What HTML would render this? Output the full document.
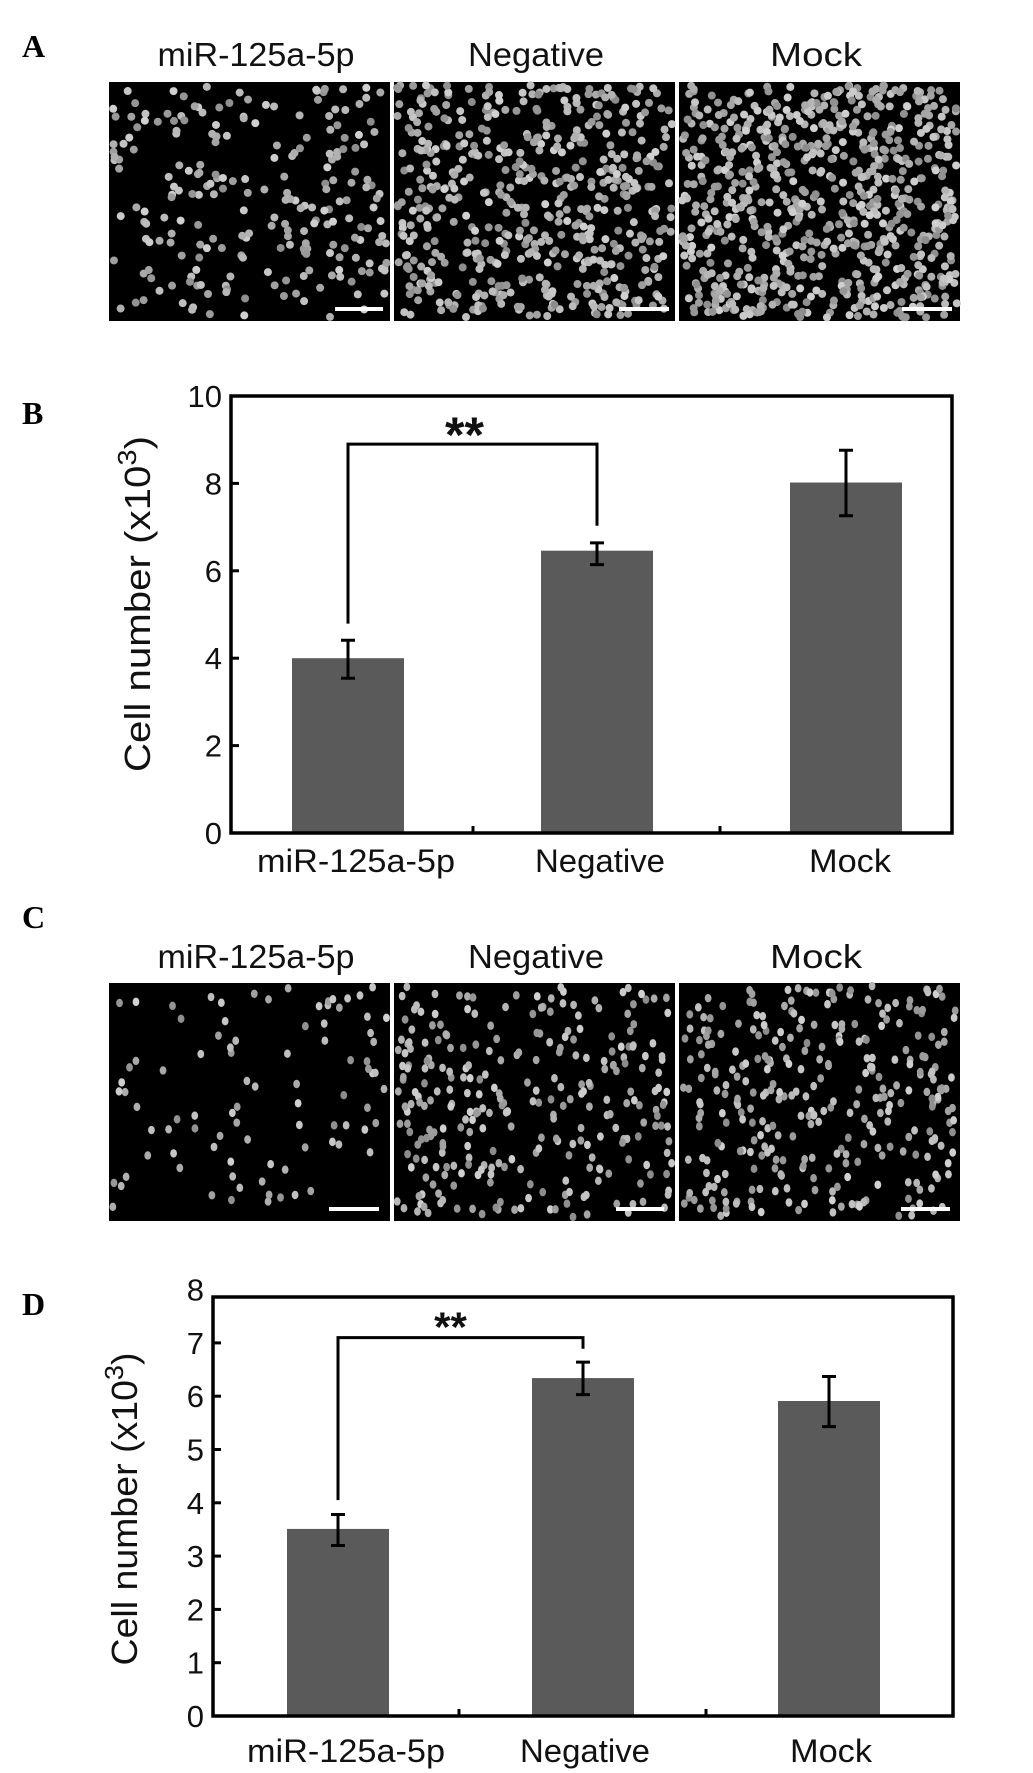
<!DOCTYPE html>
<html><head><meta charset="utf-8"><style>
html,body{margin:0;padding:0;background:#fff;}
svg{display:block;font-family:"Liberation Sans",Arial,sans-serif;}
.pl{font-family:"Liberation Serif",serif;font-weight:bold;font-size:32px;}
</style></head><body>
<svg id="fig" width="1033" height="1773" viewBox="0 0 1033 1773" xmlns="http://www.w3.org/2000/svg">
<rect width="1033" height="1773" fill="#fff"/>
<text class="pl" x="22" y="57">A</text>
<text class="pl" x="22" y="424">B</text>
<text class="pl" x="22" y="928">C</text>
<text class="pl" x="22" y="1315">D</text>
<g id="micro"></g>
<g id="chartB"></g>
<g id="chartD"></g>
</svg>
<script>
// ---- chart B data ----
const categoriesB = ["miR-125a-5p", "Negative", "Mock"];
const valuesB = [4.0, 6.46, 8.02];
const errHiB = [4.41, 6.64, 8.76];
const errLoB = [3.54, 6.14, 7.26];
const ticksB = [0, 2, 4, 6, 8, 10];
// ---- chart D data ----
const categoriesD = ["miR-125a-5p", "Negative", "Mock"];
const valuesD = [3.51, 6.34, 5.91];
const errHiD = [3.78, 6.64, 6.37];
const errLoD = [3.2, 6.03, 5.43];
const ticksD = [0, 1, 2, 3, 4, 5, 6, 7, 8];

const NS = "http://www.w3.org/2000/svg";
function mk(tag, attrs, parent) {
  const e = document.createElementNS(NS, tag);
  for (const k in attrs) e.setAttribute(k, attrs[k]);
  parent.appendChild(e);
  return e;
}

// ---- microscopy panels (texture) ----
let seed = 12345;
function rnd() { seed = (seed * 1103515245 + 12345) % 2147483648; return seed / 2147483648; }
const micro = document.getElementById('micro');
function panelRow(top, bottom, titleY, counts, rx, ry, bars, barY, label) {
  const xs = [[109, 390], [394, 675], [679, 960]];
  const titles = ["miR-125a-5p", "Negative", "Mock"];
  const tc = [256, 536, 816];
  const tl = [197, 136, 92];
  for (let i = 0; i < 3; i++) {
    const t = mk('text', {x: tc[i] - tl[i] / 2, y: titleY, 'font-size': 33, textLength: tl[i], lengthAdjust: 'spacingAndGlyphs', fill: '#111'}, micro);
    
    
    t.textContent = titles[i];
    const g = mk('g', {}, micro);
    
    
    mk('rect', {x: xs[i][0], y: top, width: xs[i][1] - xs[i][0], height: bottom - top, fill: '#000'}, g);
    for (let k = 0; k < counts[i]; k++) {
      const cx = xs[i][0] + 3 + rnd() * (xs[i][1] - xs[i][0] - 6);
      const cy = top + 3 + rnd() * (bottom - top - 6);
      const shade = 140 + Math.floor(rnd() * 70);
      mk('ellipse', {cx: cx, cy: cy, rx: rx, ry: ry, fill: 'rgb(' + shade + ',' + shade + ',' + shade + ')'}, g);
    }
    const sb = mk('rect', {x: bars[i][0], y: barY - 2, width: bars[i][1] - bars[i][0], height: 4, fill: '#fff'}, g);
    
    
  }
}
panelRow(82, 321, 66, [230, 540, 720], 4.0, 4.0, [[335, 383], [619, 669], [902, 952]], 309, 'a');
panelRow(983, 1221, 968, [90, 290, 320], 3.4, 4.2, [[329, 379], [616, 664], [901, 950]], 1209, 'c');

// ---- bar charts ----
function barChart(gid, cats, vals, hi, lo, ticks, o) {
  const g = document.getElementById(gid);
  const y = v => o.y0 - (v - 0) * o.ppu;
  const xc = i => o.centers[i];
  for (let i = 0; i < cats.length; i++) {
    const b = mk('rect', {x: xc(i) - o.bw / 2, y: y(vals[i]), width: o.bw, height: y(0) - y(vals[i]), fill: '#5a5a5a'}, g);
    
    
    const e = mk('path', {d: 'M' + xc(i) + ' ' + y(hi[i]) + 'V' + y(lo[i]) + 'M' + (xc(i) - 7) + ' ' + y(hi[i]) + 'H' + (xc(i) + 7) + 'M' + (xc(i) - 7) + ' ' + y(lo[i]) + 'H' + (xc(i) + 7), stroke: '#000', 'stroke-width': 3, fill: 'none'}, g);
    
    
    const tl = [198, 130, 82];
    const t = mk('text', {x: o.labelX[i] - tl[i] / 2, y: o.labelY, 'font-size': 32, textLength: tl[i], lengthAdjust: 'spacingAndGlyphs', fill: '#111'}, g);
    
    
    t.textContent = cats[i];
  }
  const frame = mk('rect', {x: o.left, y: o.top, width: o.right - o.left, height: y(0) - o.top, fill: 'none', stroke: '#000', 'stroke-width': 3.5}, g);
  
  
  for (const tv of ticks) {
    const ty = y(tv);
    if (ty >= o.top) mk('line', {x1: o.left, x2: o.left + 8, y1: ty, y2: ty, stroke: '#000', 'stroke-width': 3}, g);
    const t = mk('text', {x: o.left - 9, y: ty + 11, 'font-size': 31, 'text-anchor': 'end', fill: '#111'}, g);
    
    
    t.textContent = tv;
  }
  for (const tx of o.xticks) mk('line', {x1: tx, x2: tx, y1: y(0), y2: y(0) - 7, stroke: '#000', 'stroke-width': 3}, g);
  const yt = mk('text', {x: -o.titleLen / 2, y: 0, 'font-size': 36, textLength: o.titleLen, lengthAdjust: 'spacingAndGlyphs', fill: '#111', transform: 'translate(' + o.titleX + ',' + o.titleY + ') rotate(-90)'}, g);
  
  
  yt.innerHTML = 'Cell number (x10<tspan dy="-14" font-size="26">3</tspan><tspan dy="14">)</tspan>';
  const br = mk('path', {d: 'M' + xc(0) + ' ' + y(o.brL) + 'V' + y(o.brY) + 'H' + xc(1) + 'V' + y(o.brR), stroke: '#000', 'stroke-width': 3, fill: 'none'}, g);
  
  
  const st = mk('text', {x: (xc(0) + xc(1)) / 2 + o.starDx, y: y(o.brY) - 6 + o.starDy, 'font-size': o.starSize, 'font-weight': 'bold', 'text-anchor': 'middle', fill: '#111'}, g);
  
  
  st.textContent = '**';
}
barChart('chartB', categoriesB, valuesB, errHiB, errLoB, ticksB, {
  y0: 833, ppu: 43.7, top: 396, left: 231, right: 952, centers: [348, 597, 846], bw: 112,
  labelX: [356, 600, 850], labelY: 872, xticks: [473, 720], titleX: 150, titleY: 604, titleLen: 336,
  brL: 4.79, brY: 8.9, brR: 7.03, starDx: -8, starDy: 14, starSize: 50
});
barChart('chartD', categoriesD, valuesD, errHiD, errLoD, ticksD, {
  y0: 1716, ppu: 53.3, top: 1297, left: 213, right: 953, centers: [338, 583, 829], bw: 102,
  labelX: [346, 585, 831], labelY: 1762, xticks: [459, 706], titleX: 137, titleY: 1509, titleLen: 313,
  brL: 4.05, brY: 7.1, brR: 6.89, starDx: -10, starDy: 10, starSize: 42
});
</script>
</body></html>
